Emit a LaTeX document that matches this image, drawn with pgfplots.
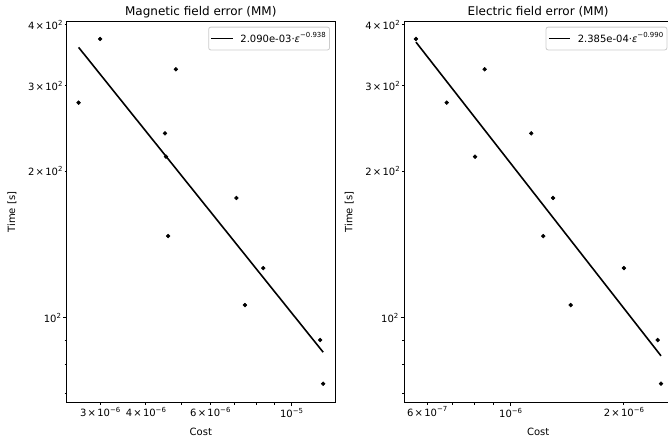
\documentclass[border=0pt]{standalone}
\usepackage{fontspec}
\setmainfont{DejaVu Sans}
\usepackage{pgfplots}
\pgfplotsset{compat=1.18}
\newcommand{\sps}[1]{\raisebox{0.42em}{\fontsize{5bp}{5bp}\selectfont #1}}
\newcommand{\tms}{\kern0.9bp×\kern0.9bp}
\newcommand{\fs}{\fontsize{7.2bp}{8.6bp}\selectfont}
\pgfplotsset{
    legend image code/.code={\draw[#1, line width=1.15bp] (0bp,0bp) -- (15.4bp,0bp); \path (19bp,0bp);},
    mpl/.style={
    scale only axis, width=193.2bp, height=274.3bp,
    anchor=south west,
    axis line style={line width=0.58bp, black},
    every tick/.style={black, line width=0.58bp},
    tick align=outside, xtick pos=bottom, ytick pos=left,
    major tick length=1.44bp, minor tick length=1.44bp,
    tick label style={font=\fs, inner sep=1.4bp},
    ymin=66.9, ymax=406,
    ytick={200,300,400},
    yticklabels={2\tms10\sps{2},3\tms10\sps{2},4\tms10\sps{2}},
    minor ytick={70,80,90},
    extra y ticks={100}, extra y tick labels={10\sps{2}},
    extra y tick style={major tick length=2.52bp},
    extra x tick style={major tick length=2.52bp},
    ylabel={Time [s]}, xlabel={Cost},
    ylabel style={at={([xshift=-36bp]rel axis cs:0,0.5)}, anchor=south, font=\fs, inner sep=0pt},
    xlabel style={at={([yshift=-18.2bp]rel axis cs:0.5,0)}, anchor=north, font=\fs, inner sep=0pt},
    every axis title/.style={at={(rel axis cs:0.5,1)}, anchor=base, yshift=4.3bp, font=\fontsize{8.64bp}{10bp}\selectfont, inner sep=0pt},
    legend style={at={(1,1)}, anchor=north east, xshift=-3.6bp, yshift=-3.6bp,
      draw=black!20, line width=0.58bp, rounded corners=1.5bp, fill=white, fill opacity=0.8, text opacity=1,
      font=\fs, inner xsep=1.4bp, inner ysep=2.8bp,
      nodes={inner sep=1.3bp}},
    legend cell align=left,
    },
}
\begin{document}
\begin{tikzpicture}
\begin{loglogaxis}[mpl, at={(48bp,30.46bp)},
  title={Magnetic field error (MM)},
  xmin=2.43e-6, xmax=1.314e-5,
  xtick={3e-6,4e-6,6e-6}, xticklabels={3\tms10\sps{−6},4\tms10\sps{−6},6\tms10\sps{−6}},
  minor xtick={5e-6,7e-6,8e-6,9e-6},
  extra x ticks={1e-5}, extra x tick labels={10\sps{−5}},
]
\addplot[only marks, mark=*, mark size=1.35bp, black, forget plot] coordinates {
 (2.62e-6,276.8) (3.00e-6,374.2) (4.83e-6,324.2) (4.51e-6,239.4)
 (4.54e-6,214.3) (7.07e-6,176.3) (4.60e-6,147.2) (8.37e-6,126.5)
 (7.46e-6,106.2) (1.197e-5,90.0) (1.22e-5,73.2)};
\addplot[black, line width=1.15bp, mark=none] coordinates {(2.62e-6,359.6) (1.22e-5,84.95)};
\addlegendentry{2.090e-03·\textit{ε}\sps{−0.938}}
\end{loglogaxis}
\begin{loglogaxis}[mpl, at={(290.9bp,30.46bp)},
  title={Electric field error (MM)},
  xmin=5.205e-7, xmax=2.69e-6,
  xtick={6e-7,2e-6}, xticklabels={6\tms10\sps{−7},2\tms10\sps{−6}},
  minor xtick={7e-7,8e-7,9e-7},
  extra x ticks={1e-6}, extra x tick labels={10\sps{−6}},
]
\addplot[only marks, mark=*, mark size=1.35bp, black, forget plot] coordinates {
 (5.60e-7,374.2) (6.76e-7,276.8) (8.53e-7,324.2) (8.04e-7,214.3)
 (1.134e-6,239.4) (1.296e-6,176.3) (1.221e-6,147.2) (2.00e-6,126.5)
 (1.444e-6,106.2) (2.46e-6,90.0) (2.51e-6,73.2)};
\addplot[black, line width=1.15bp, mark=none] coordinates {(5.60e-7,368.7) (2.51e-6,83.5)};
\addlegendentry{2.385e-04·\textit{ε}\sps{−0.990}}
\end{loglogaxis}
\pgfresetboundingbox
\useasboundingbox (0,0) rectangle (480.96bp,320.4bp);
\end{tikzpicture}
\end{document}
